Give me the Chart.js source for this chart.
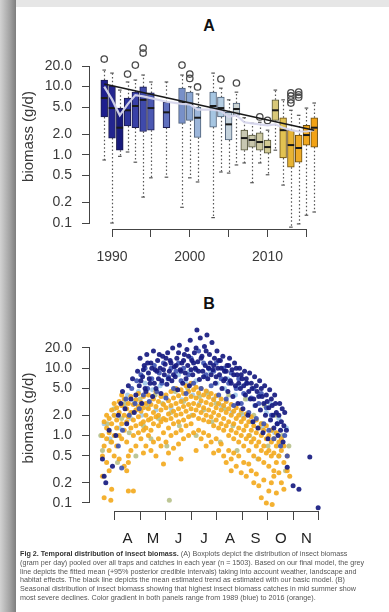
<!DOCTYPE html>
<html><head><meta charset="utf-8">
<script src="https://cdn.jsdelivr.net/npm/chart.js@4.4.1/dist/chart.umd.min.js"></script>
<style>
html,body{margin:0;padding:0;width:389px;height:612px;overflow:hidden;background:#e6e6e6;font-family:"Liberation Sans",Arial,sans-serif;}
#shadow{position:absolute;left:0;top:0;width:16px;height:612px;background:linear-gradient(to right,#d2d2d2,#a4a4a4 60%,#7e7e7e);}
#page{position:absolute;left:16px;top:7px;width:373px;height:605px;background:#fff;}
canvas{position:absolute;left:0;}
#cA{top:0;}
#cB{top:280px;}
.ptitle{position:absolute;width:40px;text-align:center;font-weight:bold;font-size:16px;color:#111;}
#cap{position:absolute;left:20px;top:550px;font-size:7.2px;line-height:8.8px;color:#555;white-space:nowrap;}
#cap b{color:#333;}
</style></head>
<body>
<div id="shadow"></div>
<div id="page"></div>
<div class="ptitle" style="left:189px;top:17px;">A</div>
<div class="ptitle" style="left:189px;top:295px;">B</div>
<canvas id="cA" width="389" height="280"></canvas>
<canvas id="cB" width="389" height="275"></canvas>
<div id="cap"><b>Fig 2. Temporal distribution of insect biomass.</b> (A) Boxplots depict the distribution of insect biomass<br>(gram per day) pooled over all traps and catches in each year (n = 1503). Based on our final model, the grey<br>line depicts the fitted mean (+95% posterior credible intervals) taking into account weather, landscape and<br>habitat effects. The black line depicts the mean estimated trend as estimated with our basic model. (B)<br>Seasonal distribution of insect biomass showing that highest insect biomass catches in mid summer show<br>most severe declines. Color gradient in both panels range from 1989 (blue) to 2016 (orange).</div>
<script>
// ---------- Panel A data ----------
const years = [1989,1990,1991,1992,1993,1994,1995,1997,1999,2000,2001,2003,2004,2005,2006,2007,2008,2009,2010,2011,2012,2013,2014,2015,2016];
const whiskerLow  = [0.84,0.10,0.95,1.1,0.78,0.24,0.46,0.47,0.17,0.46,0.40,0.12,0.56,0.54,0.71,0.76,0.39,0.76,0.51,1.17,0.36,0.087,0.097,0.13,0.145];
const boxLow      = [3.6,1.76,1.17,2.65,2.5,2.2,2.3,2.5,2.9,3.2,1.8,2.55,3.6,1.65,3.8,1.17,1.3,1.17,1.06,3.2,0.9,0.66,0.78,1.39,1.3];
const medians     = [6.8,4.85,2.5,4.5,5.2,6.4,4.85,4.2,5.9,5.6,3.5,5.2,4.85,2.8,4.7,1.76,1.65,1.54,1.3,4.5,2.3,1.39,1.26,1.95,2.5];
const boxHigh     = [12.5,10.2,4.85,6.8,8.3,9.9,8.1,5.9,9.5,8.3,5.0,8.3,7.0,4.2,5.75,2.3,1.95,2.1,1.65,6.4,3.5,2.3,1.95,2.7,3.5];
const whiskerHigh = [17.5,15.8,8.9,11.7,12.5,14.8,11.7,11.7,14.8,10.0,7.8,15.8,9.5,6.4,8.3,3.5,2.9,3.0,2.3,8.9,6.4,4.5,3.8,4.85,5.75];
const outliers    = [[25.4],[],[],[15.3],[20.7],[36.8,31.1],[],[],[20.7],[15.3,13.2],[9.9],[],[12.9],[],[11.3],[],[],[3.6],[3.2],[],[],[8.1,7.3,6.4,5.75],[8.3,7.6,7.0],[],[]];
const fittedMean  = [10.0,6.5,3.8,5.5,7.5,7.2,6.8,6.0,5.6,5.5,4.6,4.6,4.4,3.6,3.8,3.0,2.9,2.8,2.7,2.8,2.5,2.3,2.2,2.2,2.3];
const trendYears  = [1989,2016];
const trendValues = [10.9,2.3];
const yTickValues = [0.1,0.2,0.5,1,2,5,10,20];
const yearTicks   = [1990,1995,2000,2005,2010,2015];
const yearLabels  = [1990,2000,2010];

// ---------- Panel B data (day of year, biomass g/d) ----------
const monthStarts = [91,121,152,182,213,244,274,305,335];
const monthMids   = [106,136.5,167,197.5,228.5,259,289.5,320];
const monthLabels = ['A','M','J','J','A','S','O','N'];

const navyPts = [[76,0.45],[78,0.25],[80,0.2],[84,1.2],[88,0.35],[92,1.0],[95,2.0],[98,3.0],[100,4.5],[103,2.5],[105,1.5],[107,5.5],[110,3.5],[112,7.0],[114,2.2],[116,4.0],[118,9.0],[120,5.5],[121,14],[123,3.0],[124,7.5],[126,11],[128,4.5],[129,16],[131,8.5],[133,6.0],[134,12],[136,3.8],[137,18],[139,9.5],[140,5.0],[142,13],[143,7.0],[145,10],[146,4.2],[148,15],[150,8.0],[151,11.5],[153,5.8],[154,17],[156,9.0],[157,13],[159,6.5],[160,20],[162,10.5],[163,7.5],[165,14],[166,4.8],[168,22],[169,9.5],[171,12],[172,6.0],[174,16],[175,8.5],[177,19],[178,11],[180,5.5],[181,26],[183,13],[184,8.0],[186,17],[187,10],[189,37],[190,12.5],[192,6.8],[193,28],[195,15],[196,9.0],[198,21],[199,11],[201,31],[202,7.0],[204,16],[205,12],[207,24],[208,9.5],[210,14],[211,6.0],[213,18],[214,10],[216,8.0],[217,13],[219,5.0],[220,15],[222,9.0],[223,7.0],[225,11],[226,4.5],[228,14],[229,6.5],[231,9.5],[232,3.8],[234,12],[235,5.5],[237,8.0],[238,3.0],[240,10],[241,5.0],[243,7.0],[244,2.5],[246,9.0],[247,4.0],[249,6.0],[250,2.0],[252,8.5],[253,3.5],[255,5.0],[256,1.6],[258,7.5],[259,2.8],[261,4.5],[262,1.3],[264,6.5],[265,2.4],[267,3.8],[268,1.1],[270,5.5],[271,2.0],[273,3.2],[274,0.9],[276,4.8],[277,1.7],[279,2.8],[281,1.3],[282,4.0],[284,2.2],[286,1.0],[288,3.0],[290,1.6],[292,0.8],[294,2.2],[296,1.2],[297,0.34],[304,0.18],[311,0.16],[324,0.48],[334,0.085],
  [122,6.5],[125,9.5],[127,5.0],[130,12],[132,7.0],[135,10],[138,6.0],[141,9.0],[144,16],[147,6.5],[149,9.5],[152,14],[155,7.0],[158,12],[161,8.0],[164,11],[167,17],[170,9.0],[173,13],[176,7.0],[179,15],[182,9.5],[185,12],[188,20],[191,9.0],[194,14],[197,7.5],[200,18],[203,10],[206,8.0],[209,11],[212,7.5],[215,13],[218,10],[221,6.5],[224,9.0],[227,11],[230,6.0],[233,8.0],[236,10],[239,6.0],[242,8.0],[245,5.5],[248,7.0],[251,4.5],[254,6.0],[257,3.5],[260,5.5],[263,3.8],[266,5.0],[269,3.0],[272,4.0],[275,2.6],[278,3.5],[280,2.0],[283,3.0],[285,1.5],[287,2.0],[289,1.2],[291,2.5],[293,1.4]];
const bluePts = [[95,0.7],[99,0.33],[100,1.2],[104,3.5],[108,2.0],[111,5.0],[115,3.0],[117,6.5],[120,2.5],[122,8.0],[125,4.0],[127,10],[130,5.0],[132,3.2],[135,7.0],[138,11],[141,4.5],[144,8.5],[147,6.0],[149,12],[152,3.6],[155,7.5],[158,10],[161,5.0],[164,9.0],[167,12],[170,6.5],[173,10],[176,4.2],[179,8.0],[182,14],[185,6.0],[188,9.5],[191,18],[194,5.0],[197,12],[200,8.0],[203,10],[206,5.5],[209,9.0],[212,12],[215,4.0],[218,7.0],[221,10],[224,3.5],[227,6.0],[230,8.5],[233,2.8],[236,5.0],[239,7.0],[242,3.0],[245,4.2],[248,6.0],[251,2.2],[254,3.6],[257,5.0],[260,1.8],[263,3.0],[266,4.2],[269,1.5],[272,2.6],[275,1.2],[278,2.0],[281,0.9],[285,1.5],[289,0.7],[294,1.0],[297,0.5]];
const lightPts = [[78,1.5],[85,0.9],[90,2.0],[96,1.3],[102,2.8],[106,4.0],[110,1.8],[114,3.2],[119,4.5],[123,2.0],[127,6.0],[131,3.0],[136,4.8],[140,2.4],[145,5.5],[150,3.8],[154,7.0],[158,2.6],[163,5.0],[167,8.0],[171,3.4],[176,6.0],[180,9.0],[184,4.0],[188,6.5],[192,3.0],[197,7.5],[201,4.5],[205,9.0],[209,3.5],[213,6.0],[218,2.8],[222,5.0],[226,7.0],[231,2.2],[235,4.0],[240,5.5],[244,2.0],[249,3.5],[253,1.6],[258,2.8],[263,4.0],[267,1.3],[272,2.2],[277,3.0],[282,1.1],[287,1.8],[291,0.7],[296,1.3]];
const olivePts = [[74,1.0],[76,0.6],[82,1.5],[86,0.8],[90,2.5],[94,0.4],[99,1.8],[103,3.0],[108,1.1],[112,2.2],[116,0.5],[121,3.5],[125,1.4],[130,2.6],[134,0.9],[139,4.0],[143,1.8],[148,3.0],[153,0.7],[156,0.11],[158,2.2],[163,4.5],[168,1.4],[173,3.2],[178,5.0],[183,2.0],[188,1.0],[192,3.8],[197,2.4],[202,4.2],[207,1.6],[212,3.0],[217,0.8],[222,2.5],[227,4.0],[232,1.4],[237,0.6],[242,2.2],[247,3.5],[252,1.0],[257,2.0],[262,0.45],[266,1.5],[270,2.8],[274,0.7],[278,1.2],[283,2.0],[287,0.5],[291,1.0],[295,0.3],[299,0.7]];
const orangeCols = [[76,[0.5,0.25,1.0]],[78,[0.12,0.7,1.6]],[81,[0.9,0.4,1.3,2.0]],[84,[0.6,1.1,1.8,0.3]],[86,[0.11]],[87,[1.5,0.8,2.4,0.16]],[90,[1.0,2.0,0.5,3.0]],[93,[1.3,2.6,0.7,1.7]],[96,[2.2,1.0,3.2,0.45]],[99,[1.5,2.8,0.9,4.0]],[102,[2.0,1.2,3.5,0.35]],[105,[2.5,1.6,0.8,0.3]],[107,[3.0,1.9,0.5,0.4,0.15]],[110,[2.2,1.3,3.8,0.6]],[113,[1.7,2.9,1.0,0.15]],[116,[2.4,3.4,1.4,0.7]],[119,[1.9,2.7,1.1,4.2]],[122,[2.3,3.1,1.5,0.9]],[125,[1.6,2.6,3.8,1.2,0.55]],[128,[2.0,3.0,1.3,0.7]],[131,[2.5,1.7,4.0,1.0]],[134,[1.8,2.9,1.2,0.6]],[137,[2.2,3.5,1.5,0.8]],[140,[2.7,1.9,4.5,0.5]],[143,[2.0,3.2,1.4,0.9]],[146,[2.4,3.8,1.6,0.7]],[149,[1.8,2.9,1.1,0.38]],[152,[2.6,4.0,1.7,0.8]],[155,[2.1,3.3,1.3,0.55]],[158,[2.8,4.5,1.8,1.0]],[161,[2.3,3.6,1.5,0.65]],[164,[3.0,5.0,2.0,1.1]],[167,[2.5,3.9,1.6,0.75]],[170,[3.2,4.8,2.1,1.2,0.45]],[173,[2.7,4.2,1.7,0.9]],[176,[3.5,5.5,2.3,1.4]],[179,[2.9,4.5,1.9,1.0]],[182,[3.8,6.0,2.5,1.5]],[185,[3.0,4.8,2.0,1.1]],[188,[3.6,5.2,2.4,0.6]],[191,[2.8,4.3,1.8,1.2]],[194,[3.3,5.0,2.2,0.9]],[197,[2.6,4.0,1.7,1.1]],[200,[3.1,4.6,2.0,0.7]],[203,[2.4,3.7,1.6,1.0]],[206,[2.9,4.2,1.9,0.8]],[209,[2.2,3.4,1.4,0.55]],[212,[2.6,3.9,1.7,0.9]],[215,[2.0,3.0,1.3,0.6]],[218,[2.4,3.5,1.5,0.75]],[221,[1.8,2.8,1.2,0.5]],[224,[2.2,3.2,1.4,0.4]],[227,[1.6,2.5,1.0,0.6]],[230,[2.0,2.9,1.2,0.45,0.3]],[233,[1.5,2.3,0.9,0.55]],[236,[1.8,2.6,1.1,0.35]],[239,[1.3,2.0,0.8,0.5]],[242,[1.6,2.4,1.0,0.28]],[245,[1.2,1.8,0.7,0.4]],[248,[1.4,2.1,0.9,0.25]],[251,[1.0,1.6,0.6,0.38]],[254,[1.2,1.9,0.8,0.3]],[257,[0.9,1.4,0.5,0.2]],[260,[1.1,1.7,0.7,0.27]],[263,[0.8,1.3,0.45,0.18]],[266,[1.0,1.5,0.6,0.12]],[269,[0.7,1.2,0.4,0.22]],[272,[0.9,1.4,0.55,0.1]],[275,[0.6,1.0,0.35,0.15]],[278,[0.8,1.2,0.5,0.2]],[279,[0.095]],[281,[0.55,0.9,0.3,0.25]],[284,[0.7,1.1,0.4,0.14]],[287,[0.5,0.8,0.28]],[290,[0.6,0.9,0.2]],[293,[0.4,0.7,0.16]],[297,[0.3,0.5]],[300,[0.25]]];

// ---------- styles ----------
const boxFill = ['#1e1e8e','#23258f','#181a7c','#2d349c','#3840a6','#3f4aab','#4b58b2','#6070be','#7890c8','#8aa6d2','#9cb6da','#a6c6e2','#b4cde2','#c4d2dc','#ccd4d4','#c8c8b2','#cac8ac','#cdc9a2','#d2ca94','#d8c878','#e2c252','#e8b434','#eeab28','#f0a71e','#f2a214'];
const boxLine = years.map(y => y <= 1997 ? '#1c1c50' : y <= 2006 ? '#4e6078' : y <= 2011 ? '#55553a' : '#6a4c10');
const axisColor = '#444';
const tickFont = {family:'"Liberation Sans", Arial, sans-serif', size:14};
const titleFont = {family:'"Liberation Sans", Arial, sans-serif', size:15};

const rAxisLines = {
  id:'rAxisLines',
  afterDatasetsDraw(chart, args, opts){
    const {ctx, chartArea, scales:{x,y}} = chart;
    ctx.save(); ctx.strokeStyle = axisColor; ctx.lineWidth = 1; ctx.setLineDash([]);
    ctx.beginPath();
    const yb = Math.round(chartArea.bottom) + 0.5;
    ctx.moveTo(x.getPixelForValue(opts.x[0]), yb); ctx.lineTo(x.getPixelForValue(opts.x[1]), yb);
    const xl = Math.round(chartArea.left) - 0.5;
    ctx.moveTo(xl, y.getPixelForValue(opts.y[0])); ctx.lineTo(xl, y.getPixelForValue(opts.y[1]));
    ctx.stroke(); ctx.restore();
  }
};

const boxExtras = {
  id:'boxExtras',
  beforeDatasetsDraw(chart){
    const {ctx, scales:{x,y}} = chart;
    ctx.save(); ctx.strokeStyle = '#555'; ctx.lineWidth = 1.2; ctx.setLineDash([1.5,2.3]);
    years.forEach((yr,i)=>{
      const px = Math.round(x.getPixelForValue(yr)) + 0.5;
      ctx.beginPath();
      ctx.moveTo(px, y.getPixelForValue(boxHigh[i])); ctx.lineTo(px, y.getPixelForValue(whiskerHigh[i]));
      ctx.moveTo(px, y.getPixelForValue(boxLow[i])); ctx.lineTo(px, y.getPixelForValue(whiskerLow[i]));
      ctx.stroke();
    });
    ctx.setLineDash([]); ctx.lineWidth = 1.2;
    years.forEach((yr,i)=>{
      const px = x.getPixelForValue(yr);
      [whiskerHigh[i], whiskerLow[i]].forEach(v=>{
        const py = y.getPixelForValue(v);
        ctx.beginPath(); ctx.moveTo(px-1.8, py); ctx.lineTo(px+1.8, py); ctx.stroke();
      });
    });
    ctx.restore();
  },
  afterDatasetDraw(chart, args){
    if (args.meta.type !== 'bar') return;
    const {ctx, scales:{x,y}} = chart;
    ctx.save(); ctx.strokeStyle = '#1a1a1a'; ctx.lineWidth = 2;
    years.forEach((yr,i)=>{
      const px = x.getPixelForValue(yr), py = y.getPixelForValue(medians[i]);
      ctx.beginPath(); ctx.moveTo(px-3.3, py); ctx.lineTo(px+3.3, py); ctx.stroke();
    });
    ctx.restore();
  }
};

function yAxis(minV, maxV, titlePad){
  return {
    type:'logarithmic', min:minV, max:maxV,
    afterBuildTicks: s => { s.ticks = yTickValues.map(v=>({value:v})); },
    afterFit: s => { s.width = 90; },
    border:{display:false},
    grid:{drawOnChartArea:false, drawTicks:true, tickLength:8, color:axisColor},
    ticks:{font:tickFont, color:'#3a3a3a', padding:10, callback: v => Number(v).toFixed(1)},
    title:{display:true, text:'biomass (g/d)', font:titleFont, color:'#3a3a3a', padding:{top:titlePad, bottom:0}}
  };
}

// ---------- Chart A ----------
const outlierPts = [];
years.forEach((yr,i)=> outliers[i].forEach(v => outlierPts.push({x:yr, y:v})));

new Chart(document.getElementById('cA'), {
  type:'bar',
  data:{datasets:[
    {type:'line', data: trendYears.map((yr,i)=>({x:yr, y:trendValues[i]})), borderColor:'#1a1a1a', borderWidth:1.6, pointRadius:0, order:0},
    {type:'line', data: years.map((yr,i)=>({x:yr, y:fittedMean[i]})), borderColor:'rgba(214,214,236,0.95)', borderWidth:2.2, pointRadius:0, tension:0, order:1},
    {type:'scatter', data: outlierPts, pointRadius:3.2, pointBorderWidth:1.3, pointBackgroundColor:'rgba(0,0,0,0)', pointBorderColor:'#4a4a4a', order:2},
    {type:'bar', data: years.map((yr,i)=>({x:yr, y:[boxLow[i], boxHigh[i]]})), backgroundColor: boxFill, borderColor: boxLine, borderWidth:1, borderSkipped:false, barThickness:6.8, order:3}
  ]},
  options:{
    responsive:false, animation:false, events:[],
    layout:{padding:{top:44, right:67, left:0, bottom:0}},
    plugins:{legend:{display:false}, tooltip:{enabled:false}, rAxisLines:{x:[1990,2015], y:[0.1,20]}},
    scales:{
      x:{type:'linear', min:1987.17, max:2017, offset:false,
        afterBuildTicks: s => { s.ticks = yearTicks.map(v=>({value:v})); },
        afterFit: s => { s.height = 280 - 229; },
        border:{display:false},
        grid:{drawOnChartArea:false, drawTicks:true, tickLength:8, color:axisColor, offset:false},
        ticks:{font:tickFont, color:'#3a3a3a', padding:12, autoSkip:false, maxRotation:0,
          callback: v => yearLabels.includes(v) ? String(v) : ''}
      },
      y: yAxis(0.0817, 42.2, 19.5)
    }
  },
  plugins:[rAxisLines, boxExtras]
});

// ---------- Chart B ----------
const orangePts = orangeCols.flatMap(([d, vals]) => vals.map(v => [d, v]));
const toXY = arr => arr.map(([d,v]) => ({x:d, y:v}));
const monthTicks = monthStarts.concat(monthMids).sort((a,b)=>a-b);

new Chart(document.getElementById('cB'), {
  type:'scatter',
  data:{datasets:[
    {data: toXY(navyPts), backgroundColor:'rgba(22,26,128,0.92)', pointRadius:2.5, borderWidth:0, order:0},
    {data: toXY(bluePts), backgroundColor:'rgba(60,82,178,0.9)', pointRadius:2.5, borderWidth:0, order:1},
    {data: toXY(orangePts), backgroundColor:'rgba(243,170,32,0.92)', pointRadius:2.5, borderWidth:0, order:2},
    {data: toXY(olivePts), backgroundColor:'rgba(182,192,138,0.9)', pointRadius:2.5, borderWidth:0, order:3},
    {data: toXY(lightPts), backgroundColor:'rgba(160,200,232,0.9)', pointRadius:2.5, borderWidth:0, order:4}
  ]},
  options:{
    responsive:false, animation:false, events:[],
    layout:{padding:{top:45, right:67, left:0, bottom:0}},
    plugins:{legend:{display:false}, tooltip:{enabled:false}, rAxisLines:{x:[91,335], y:[0.1,20]}},
    scales:{
      x:{type:'linear', min:61.1, max:338.6,
        afterBuildTicks: s => { s.ticks = monthTicks.map(v=>({value:v})); },
        afterFit: s => { s.height = 275 - 231; },
        border:{display:false},
        grid:{drawOnChartArea:false, drawTicks:true, tickLength:9,
          color: c => (c.tick && monthStarts.includes(c.tick.value)) ? axisColor : 'rgba(0,0,0,0)'},
        ticks:{font:{family:tickFont.family, size:15}, color:'#222', padding:10, autoSkip:false, maxRotation:0,
          callback: v => { const k = monthMids.indexOf(v); return k >= 0 ? monthLabels[k] : ''; }}
      },
      y: yAxis(0.076, 43.8, 19.5)
    }
  },
  plugins:[rAxisLines]
});
</script>
</body></html>
